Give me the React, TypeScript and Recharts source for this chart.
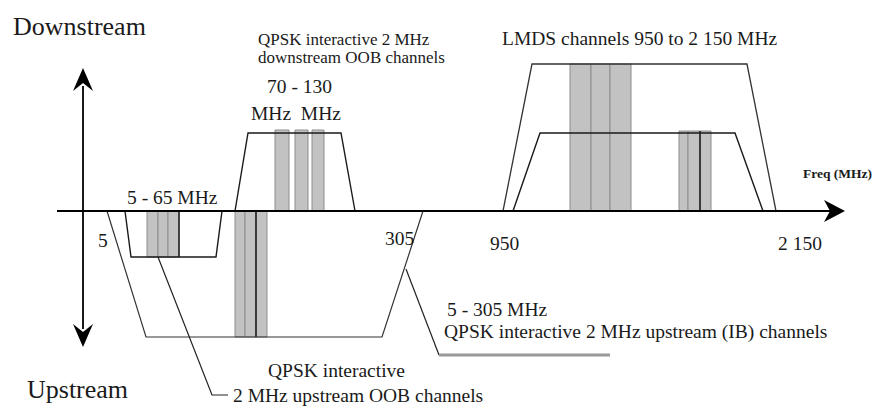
import { ComposedChart, XAxis, YAxis, Line, ReferenceArea, ReferenceLine, ReferenceDot } from "recharts";

// diagram units: x runs along the sketched spectrum, y is the level above (+) / below (-) the freq axis

// band masks (trapezoids)
const upOobMask = [{ x: 125, y: 0 }, { x: 131, y: -46 }, { x: 216, y: -46 }, { x: 222, y: 0 }];
const upIbMask = [{ x: 107, y: 0 }, { x: 146, y: -126 }, { x: 382, y: -126 }, { x: 423, y: 0 }];
const downOobMask = [{ x: 235, y: 0 }, { x: 248, y: 78 }, { x: 341, y: 78 }, { x: 355, y: 0 }];
const lmdsOuterMask = [{ x: 503, y: 0 }, { x: 532, y: 147 }, { x: 747, y: 147 }, { x: 776, y: 0 }];
const lmdsInnerMask = [{ x: 513, y: 0 }, { x: 540, y: 78 }, { x: 735, y: 78 }, { x: 763, y: 0 }];

// channel slots [from, to] and their level
const upOobSlots = [[147, 158], [158, 168], [168, 179]];
const upIbSlots = [[235, 245], [245, 256], [256, 267]];
const downOobSlots = [[275, 289], [295, 308], [312, 324]];
const lmdsBigSlots = [[570, 591], [591, 610], [610, 631]];
const lmdsSmallSlots = [[679, 688], [688, 700], [700, 711]];
const slotGroups = [
  { slots: upOobSlots, level: -46 },
  { slots: upIbSlots, level: -126 },
  { slots: downOobSlots, level: 81 },
  { slots: lmdsBigSlots, level: 147 },
  { slots: lmdsSmallSlots, level: 80 },
];
// darker channel edges
const darkEdges = [{ x: 179, level: -46 }, { x: 256, level: -126 }, { x: 700, level: 80 }];

// axes and leader lines
const freqAxis = [{ x: 57, y: 0 }, { x: 830, y: 0 }];
const levelAxis = [{ x: 83, y: 125 }, { x: 83, y: -118 }];
const ibLeader = [{ x: 406, y: -58 }, { x: 439, y: -144 }];
const ibUnderline = [{ x: 439, y: -144 }, { x: 610, y: -144 }];
const oobLeader = [{ x: 158, y: -46 }, { x: 212, y: -184 }, { x: 228, y: -184 }];
const arrowTips = [
  { x: 845, y: 0, dir: "right" },
  { x: 83, y: 143, dir: "up" },
  { x: 83, y: -136, dir: "down" },
];

// text
const labels = [
  { text: "Downstream", x: 13, y: 176, kind: "title" },
  { text: "Upstream", x: 27, y: -187, kind: "title" },
  { text: "QPSK interactive 2 MHz", x: 258, y: 166, kind: "note" },
  { text: "downstream OOB channels", x: 258, y: 148, kind: "note" },
  { text: "70 - 130", x: 267, y: 118, kind: "label" },
  { text: "MHz  MHz", x: 251, y: 91, kind: "label" },
  { text: "5 - 65 MHz", x: 127, y: 7, kind: "label" },
  { text: "LMDS channels 950 to 2 150 MHz", x: 502, y: 166, kind: "label" },
  { text: "Freq (MHz)", x: 803, y: 33, kind: "small" },
  { text: "5", x: 98, y: -36, kind: "label" },
  { text: "305", x: 385, y: -34, kind: "label" },
  { text: "950", x: 490, y: -39, kind: "label" },
  { text: "2 150", x: 778, y: -39, kind: "label" },
  { text: "5 - 305 MHz", x: 447, y: -105, kind: "label" },
  { text: "QPSK interactive 2 MHz upstream (IB) channels", x: 444, y: -127, kind: "label" },
  { text: "QPSK interactive", x: 268, y: -166, kind: "label" },
  { text: "2 MHz upstream OOB channels", x: 233, y: -191, kind: "label" },
];

const fontSizes: Record<string, number> = { title: 26, note: 17, label: 19.5, small: 13.5 };
const font = "'Liberation Serif', 'Times New Roman', serif";
const ink = "#1a1a1a";

const Arrow = (props: any) => {
  const { cx, cy, dir } = props;
  let pts = "";
  if (dir === "right") pts = `${cx},${cy} ${cx - 21},${cy - 11} ${cx - 15},${cy} ${cx - 21},${cy + 11}`;
  if (dir === "up") pts = `${cx},${cy} ${cx - 10},${cy + 23} ${cx},${cy + 15} ${cx + 10},${cy + 23}`;
  if (dir === "down") pts = `${cx},${cy} ${cx - 10},${cy - 23} ${cx},${cy - 15} ${cx + 10},${cy - 23}`;
  return <polygon points={pts} fill="#000" />;
};

const maskLine = (data: { x: number; y: number }[], key: string, color = ink, width = 1.4) => (
  <Line
    key={key}
    data={data}
    dataKey="y"
    type="linear"
    stroke={color}
    strokeWidth={width}
    dot={false}
    activeDot={false}
    isAnimationActive={false}
  />
);

export default function App() {
  return (
    <div style={{ width: 878, height: 407, background: "#fff" }}>
      <style>{"body{margin:0}"}</style>
      <ComposedChart width={878} height={407} margin={{ top: 0, right: 0, bottom: 0, left: 0 }}>
        <XAxis type="number" dataKey="x" domain={[0, 878]} hide allowDataOverflow />
        <YAxis type="number" domain={[-196, 211]} hide allowDataOverflow />
        {slotGroups.flatMap((g, gi) =>
          g.slots.map(([a, b], i) => (
            <ReferenceArea
              key={`s${gi}-${i}`}
              x1={a}
              x2={b}
              y1={0}
              y2={g.level}
              fill="#c2c2c2"
              fillOpacity={1}
              stroke="#8c8c8c"
              strokeWidth={1}
            />
          ))
        )}
        {darkEdges.map((e, i) => (
          <ReferenceLine
            key={`d${i}`}
            segment={[{ x: e.x, y: 0 }, { x: e.x, y: e.level }]}
            stroke="#111"
            strokeWidth={1.4}
          />
        ))}
        {maskLine(upOobMask, "upOob")}
        {maskLine(upIbMask, "upIb", "#333", 1.2)}
        {maskLine(downOobMask, "downOob")}
        {maskLine(lmdsOuterMask, "lmdsOuter", "#333", 1.3)}
        {maskLine(lmdsInnerMask, "lmdsInner")}
        {maskLine(ibLeader, "ibLeader", "#222", 1.2)}
        {maskLine(ibUnderline, "ibUnderline", "#999", 3)}
        {maskLine(oobLeader, "oobLeader", "#222", 1.2)}
        {maskLine(freqAxis, "freqAxis", "#000", 2)}
        {maskLine(levelAxis, "levelAxis", "#000", 1.8)}
        {arrowTips.map((a, i) => (
          <ReferenceDot key={`a${i}`} x={a.x} y={a.y} r={0} shape={(p: any) => <Arrow {...p} dir={a.dir} />} />
        ))}
        {labels.map((l, i) => (
          <ReferenceDot
            key={`l${i}`}
            x={l.x}
            y={l.y}
            r={0}
            shape={(p: any) => (
              <text
                x={p.cx}
                y={p.cy}
                fontFamily={font}
                fontSize={fontSizes[l.kind]}
                fontWeight={l.kind === "small" ? "bold" : "normal"}
                fill={ink}
                style={{ whiteSpace: "pre" }}
              >
                {l.text}
              </text>
            )}
          />
        ))}
      </ComposedChart>
    </div>
  );
}
